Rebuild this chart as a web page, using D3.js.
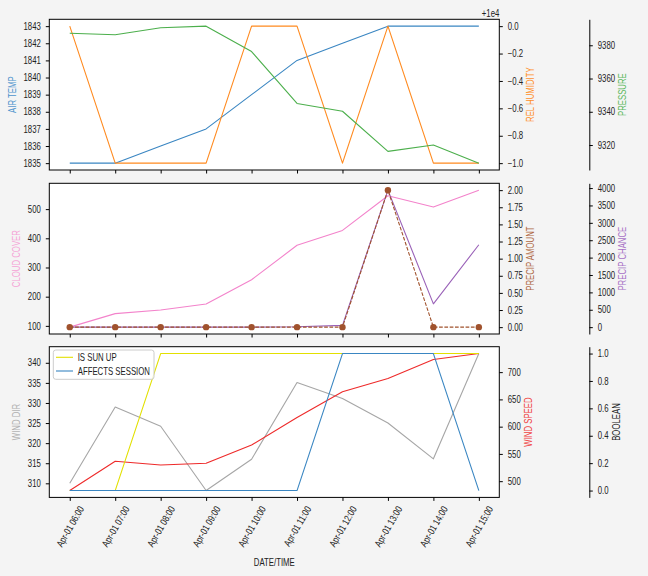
<!DOCTYPE html>
<html><head><meta charset="utf-8">
<script src="https://cdnjs.cloudflare.com/ajax/libs/d3/7.8.5/d3.min.js"></script>
<style>body{margin:0;background:#f4f4f4}svg{display:block}</style></head>
<body><svg id="c" width="648" height="576"></svg>
<script>
// ---------------- DATA ----------------
const hours = ["06:00","07:00","08:00","09:00","10:00","11:00","12:00","13:00","14:00","15:00"];
const airTemp = [1835,1835,1836,1837,1839,1841,1842,1843,1843,1843];
const relHumidity = [10000,9999,9999,9999,10000,10000,9999,10000,9999,9999];
const pressure = [9387.2,9386.3,9390.5,9391.5,9376.2,9345.0,9340.3,9316.2,9320.0,9309.1];
const cloudCover = [95.6,142,154.6,175,258,376,427,545.6,507,565];
const precipAmount = [0,0,0,0,0,0,0,2.0,0,0];
const precipChance = [0,0,0,0,0,10,50,3940,670,2370];
const windDir = [310,329,324.2,308.2,316,335.1,331.1,325,316.1,342.3];
const windSpeed = [482.8,536.5,529.7,532.8,566.2,616.8,664.2,688.5,723.2,734.1];
const isSunUp = [0,0,1,1,1,1,1,1,1,1];
const affectsSession = [0,0,0,0,0,0,1,1,1,0];

const airTempTicks = [1835,1836,1837,1838,1839,1840,1841,1842,1843];
const humidityTicks = [9999,9999.2,9999.4,9999.6,9999.8,10000];
const humidityOffset = 10000;
const pressureTicks = [9320,9340,9360,9380];
const cloudTicks = [100,200,300,400,500];
const precipAmountTicks = [0,0.25,0.5,0.75,1.0,1.25,1.5,1.75,2.0];
const precipChanceTicks = [0,500,1000,1500,2000,2500,3000,3500,4000];
const windDirTicks = [310,315,320,325,330,335,340];
const windSpeedTicks = [500,550,600,650,700];
const boolTicks = [0,0.2,0.4,0.6,0.8,1.0];

// ---------------- LAYOUT ----------------
const FONT = "'Liberation Sans', Arial, sans-serif";
const K = 0.78; // horizontal condensing of text
const L = 49.3, R = 499.3, X3 = 589.3, H = 150.7;
const tops = [19.3, 183.3, 346.7];
const svg = d3.select("#c");
svg.append("rect").attr("width",648).attr("height",576).attr("fill","#f4f4f4");

const times = hours.map(h => new Date(2024,3,1,+h.slice(0,2),+h.slice(3,5)));
const t0 = times[0].getTime(), t1 = times[times.length-1].getTime();
const pad = (t1-t0)*0.05;
const x = d3.scaleTime().domain([new Date(t0-pad), new Date(t1+pad)]).range([L,R]);

function yScale(vals, top){
  const mn = d3.min(vals), mx = d3.max(vals), r = mx-mn;
  return d3.scaleLinear().domain([mn-0.05*r, mx+0.05*r]).range([top+H, top]);
}
const minus = s => s.replace("-", "\u2212");

function condense(sel){
  sel.each(function(){
    const t = d3.select(this);
    const xv = +(t.attr("x")||0);
    t.attr("x", xv/K).attr("transform", `scale(${K},1)`);
  });
}

function drawY(g, scale, ticks, fmt, orient, keepDomain){
  const ax = (orient==="left"?d3.axisLeft(scale):d3.axisRight(scale))
    .tickValues(ticks).tickFormat(fmt).tickSize(3.5).tickSizeOuter(0).tickPadding(5);
  g.call(ax);
  g.attr("font-family",FONT).attr("font-size",10);
  if(!keepDomain) g.select(".domain").remove();
  else g.select(".domain").attr("stroke","#000").attr("stroke-width",1);
  g.selectAll(".tick line").attr("stroke","#000");
  g.selectAll(".tick text").attr("fill","#222");
  condense(g.selectAll(".tick text"));
  return g.node().getBBox();
}

function yLabel(text, top, color, side, bb){
  const cy = top + H/2;
  const bx = side==="left" ? bb.x - 7.4 : bb.x + bb.width + 11;
  svg.append("text").text(text)
    .attr("transform",`translate(${bx},${cy}) rotate(-90) scale(${K},1)`)
    .attr("text-anchor","middle").attr("font-family",FONT).attr("font-size",10)
    .attr("fill",color);
}

function drawLine(scale, vals, color, opts={}){
  const line = d3.line().x((d,i)=>x(times[i])).y(d=>scale(d));
  svg.append("path").datum(vals).attr("d",line).attr("fill","none")
    .attr("stroke",color).attr("stroke-width",opts.w||1.1)
    .attr("stroke-dasharray",opts.dash||null)
    .attr("stroke-linejoin","round");
  if(opts.dots){
    svg.append("g").selectAll("circle").data(vals).join("circle")
      .attr("cx",(d,i)=>x(times[i])).attr("cy",d=>scale(d)).attr("r",3.2)
      .attr("fill",opts.dots);
  }
}

function panelBase(top, showLabels){
  svg.append("rect").attr("x",L).attr("y",top).attr("width",R-L).attr("height",H).attr("fill","#fff");
  const g = svg.append("g").attr("transform",`translate(0,${top+H})`);
  g.call(d3.axisBottom(x).tickValues(times).tickSize(3.5).tickSizeOuter(0).tickPadding(3.5)
    .tickFormat(showLabels ? d3.timeFormat("%b-%d %H:%M") : ""));
  g.select(".domain").remove();
  g.selectAll(".tick line").attr("stroke","#000");
  if(showLabels){
    g.attr("font-family",FONT).attr("font-size",10);
    g.selectAll(".tick text").each(function(){
      const t = d3.select(this);
      const len = this.getComputedTextLength()*K;
      const h = 11;
      t.attr("y",null).attr("dy",null).attr("x",null)
       .attr("text-anchor","end").attr("dominant-baseline","central").attr("fill","#222")
       .attr("transform",`translate(${0.25*len},${3.5+3.5+0.25*h}) rotate(-60) scale(${K},1)`);
    });
  }
}
function spines(top){
  svg.append("rect").attr("x",L).attr("y",top).attr("width",R-L).attr("height",H)
    .attr("fill","none").attr("stroke","#000").attr("stroke-width",1);
}
const abs = (bb, off) => ({x: bb.x + off, width: bb.width});

// ---------------- PANEL 1 ----------------
{
  const top = tops[0];
  panelBase(top,false);
  const yT = yScale(airTemp, top), yH = yScale(relHumidity, top), yP = yScale(pressure, top);
  drawLine(yT, airTemp, "#3a86c2");
  drawLine(yH, relHumidity, "#ff8a1f");
  drawLine(yP, pressure, "#4caf4c");
  spines(top);
  let bb = drawY(svg.append("g").attr("transform",`translate(${L},0)`), yT, airTempTicks, d=>d, "left");
  yLabel("AIR TEMP", top, "#4d93cc", "left", abs(bb, L));
  bb = drawY(svg.append("g").attr("transform",`translate(${R},0)`), yH, humidityTicks, d=>minus((d-humidityOffset).toFixed(1)), "right");
  yLabel("REL HUMIDITY", top, "#ff8f2a", "right", abs(bb, R));
  bb = drawY(svg.append("g").attr("transform",`translate(${X3},0)`), yP, pressureTicks, d=>d, "right", true);
  yLabel("PRESSURE", top, "#5cb85c", "right", abs(bb, X3));
  svg.append("text").text("+1e4").attr("transform",`translate(${R},${top-2.8}) scale(${K},1)`)
    .attr("text-anchor","end").attr("font-family",FONT).attr("font-size",10).attr("fill","#222");
}
// ---------------- PANEL 2 ----------------
{
  const top = tops[1];
  panelBase(top,false);
  const yC = yScale(cloudCover, top), yA = yScale(precipAmount, top), yPC = yScale(precipChance, top);
  drawLine(yC, cloudCover, "#f383cb");
  drawLine(yPC, precipChance, "#9a62b8");
  drawLine(yA, precipAmount, "#a0522d", {dash:"3.7,1.6", dots:"#a0522d"});
  spines(top);
  let bb = drawY(svg.append("g").attr("transform",`translate(${L},0)`), yC, cloudTicks, d=>d, "left");
  yLabel("CLOUD COVER", top, "#f5a3d6", "left", abs(bb, L));
  bb = drawY(svg.append("g").attr("transform",`translate(${R},0)`), yA, precipAmountTicks, d=>d.toFixed(2), "right");
  yLabel("PRECIP AMOUNT", top, "#b06a45", "right", abs(bb, R));
  bb = drawY(svg.append("g").attr("transform",`translate(${X3},0)`), yPC, precipChanceTicks, d=>d, "right", true);
  yLabel("PRECIP CHANCE", top, "#a872c6", "right", abs(bb, X3));
}
// ---------------- PANEL 3 ----------------
{
  const top = tops[2];
  panelBase(top,true);
  const yD = yScale(windDir, top), yS = yScale(windSpeed, top), yB = yScale([0,1], top);
  drawLine(yD, windDir, "#a6a6a6");
  drawLine(yS, windSpeed, "#ee2a2a");
  drawLine(yB, isSunUp, "#e2e000");
  drawLine(yB, affectsSession, "#3a86c2");
  spines(top);
  let bb = drawY(svg.append("g").attr("transform",`translate(${L},0)`), yD, windDirTicks, d=>d, "left");
  yLabel("WIND DIR", top, "#b0b0b0", "left", abs(bb, L));
  bb = drawY(svg.append("g").attr("transform",`translate(${R},0)`), yS, windSpeedTicks, d=>d, "right");
  yLabel("WIND SPEED", top, "#f04040", "right", abs(bb, R));
  bb = drawY(svg.append("g").attr("transform",`translate(${X3},0)`), yB, boolTicks, d=>d.toFixed(1), "right", true);
  yLabel("BOOLEAN", top, "#222", "right", abs(bb, X3));

  // legend
  const lg = svg.append("g");
  lg.append("rect").attr("x",53.3).attr("y",350).attr("width",100.7).attr("height",29.3).attr("rx",2.5)
    .attr("fill","#fff").attr("fill-opacity",0.8).attr("stroke","#cccccc");
  const items = [["IS SUN UP","#e2e000"],["AFFECTS SESSION","#3a86c2"]];
  items.forEach((it,i)=>{
    const yy = 357.3 + i*13.7;
    lg.append("line").attr("x1",56).attr("x2",73).attr("y1",yy).attr("y2",yy).attr("stroke",it[1]).attr("stroke-width",1.1);
    lg.append("text").text(it[0]).attr("transform",`translate(77.7,${yy+3.6}) scale(${K},1)`)
      .attr("font-family",FONT).attr("font-size",10).attr("fill","#222");
  });
  svg.append("text").text("DATE/TIME").attr("transform",`translate(${(L+R)/2},${565.5}) scale(${K},1)`)
    .attr("text-anchor","middle").attr("font-family",FONT).attr("font-size",10).attr("fill","#222");
}
</script></body></html>
